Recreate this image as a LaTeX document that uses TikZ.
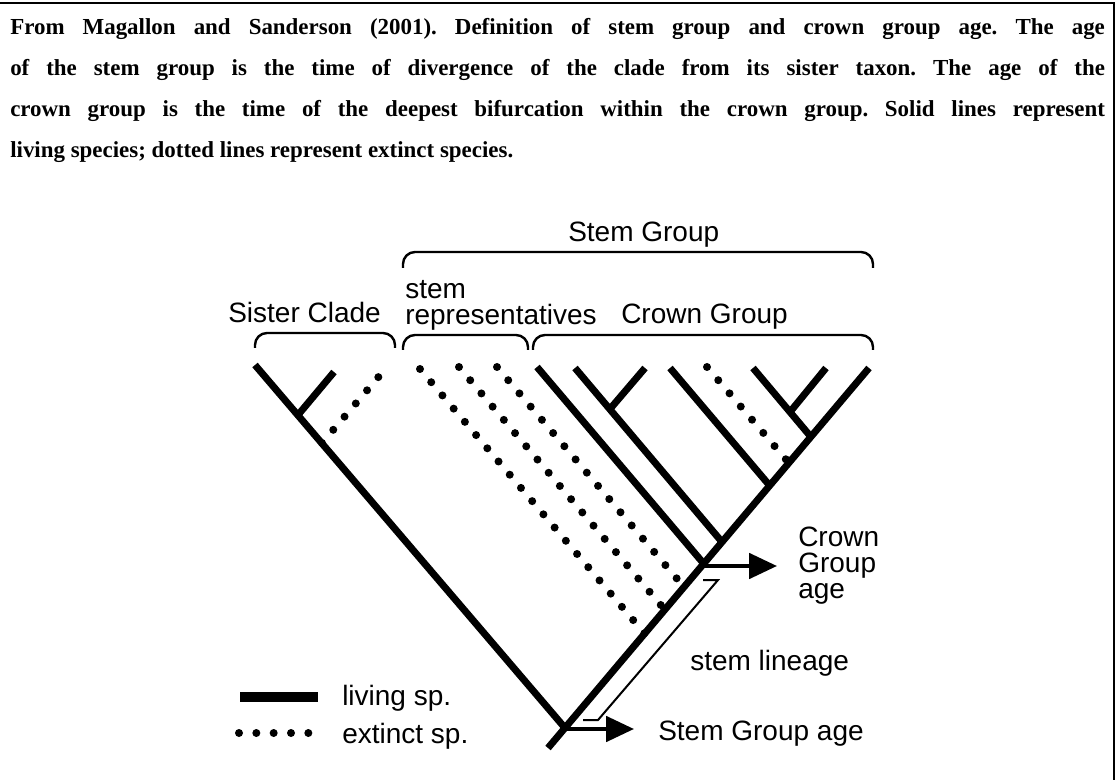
\documentclass[tikz,border=0pt]{standalone}
\usepackage{fontspec}
\setmainfont{Liberation Serif}
\newfontfamily\labelfont{Liberation Sans}
\usetikzlibrary{arrows.meta}

\begin{document}
\begin{tikzpicture}[x=0.75pt,y=-0.75pt,
  living/.style={line width=5.25pt},
  extinct/.style={line width=6pt,line cap=round,dash pattern=on 0pt off 13pt},
  bracket/.style={line width=1.8pt,rounded corners=9pt},
  agearrow/.style={line width=3pt,-{Triangle[length=21pt,width=19pt]}},
  every node/.style={font=\labelfont\fontsize{21}{24}\selectfont,inner sep=0pt,anchor=base west}]
  \useasboundingbox (0,0) rectangle (1117,780);
  \draw[line width=2pt] (0,3) -- (1114,3) -- (1114,780);
  \node[font=\rmfamily\bfseries\fontsize{17.2}{30.75}\selectfont] (caption) at (10,35) {\parbox[t]{821pt}{\frenchspacing From Magallon and Sanderson (2001). Definition of stem group and crown group age. The age\linebreak of the stem group is the time of divergence of the clade from its sister taxon. The age of the\linebreak crown group is the time of the deepest bifurcation within the crown group. Solid lines represent\linebreak living species; dotted lines represent extinct species.}};
  % brackets
  \draw[bracket] (403,268) -- (403,252) -- (873,252) -- (873,268);
  \draw[bracket] (255,348) -- (255,333) -- (395,333) -- (395,348);
  \draw[bracket] (403,350) -- (403,335) -- (528,335) -- (528,350);
  \draw[bracket] (533,350) -- (533,335) -- (873,335) -- (873,350);
  \node (stemgroup) at (568,242) {Stem Group};
  \node (sister) at (228,323) {Sister Clade};
  \node[align=left,font=\labelfont\fontsize{21}{20}\selectfont] (stemrep) at (405,325) {stem\\representatives};
  \node (crowngroup) at (621,324) {Crown Group};
  % tree
  \coordinate (root) at (565,728);
  \coordinate (base) at (548,748);
  \coordinate (top) at (869,368);
  \coordinate (sis) at (255,365);
  \coordinate (sisN) at (298,415);
  \coordinate (sisT) at (334,372);
  \coordinate (sisX) at (322,443);
  \coordinate (sisXT) at (381,374);
  \coordinate (rep1) at (420,369); \coordinate (rep1N) at (645,634);
  \coordinate (rep2) at (459,367); \coordinate (rep2N) at (665,610);
  \coordinate (rep3) at (497,367); \coordinate (rep3N) at (684,587);
  \coordinate (a) at (537,367); \coordinate (crown) at (704,564);
  \coordinate (b) at (575,368); \coordinate (bN) at (722,542);
  \coordinate (bS) at (610,409); \coordinate (bT) at (645,368);
  \coordinate (c) at (670,368); \coordinate (cN) at (770,486);
  \coordinate (d) at (707,367); \coordinate (dN) at (789,463);
  \coordinate (e) at (753,368); \coordinate (eN) at (811,437);
  \coordinate (eS) at (790,412); \coordinate (eT) at (826,368);
  \draw[living] (sis) -- (root);
  \draw[living] (base) -- (top);
  \draw[living] (sisN) -- (sisT);
  \draw[extinct] (sisX) -- (sisXT);
  \draw[extinct] (rep1) -- (rep1N);
  \draw[extinct] (rep2) -- (rep2N);
  \draw[extinct] (rep3) -- (rep3N);
  \draw[living] (a) -- (crown);
  \draw[living] (b) -- (bN);
  \draw[living] (bS) -- (bT);
  \draw[living] (c) -- (cN);
  \draw[extinct] (d) -- (dN);
  \draw[living] (e) -- (eN);
  \draw[living] (eS) -- (eT);
  % ages
  \coordinate (cgatip) at (777,566);
  \coordinate (sgatip) at (634,729);
  \draw[agearrow] (crown |- cgatip) -- (cgatip);
  \draw[agearrow] (root |- sgatip) -- (sgatip);
  \draw[line width=1.5pt] (703,580) -- (718,580) -- (598,720) -- (583,720);
  \node[align=left,font=\labelfont\fontsize{21}{19.5}\selectfont] (crownage) at (798,598) {Crown\\Group\\age};
  \node (lineage) at (690,670) {stem lineage};
  \node (stemage) at (658,740) {Stem Group age};
  % legend
  \coordinate (leg1) at (240,697); \coordinate (leg1e) at (318,697);
  \coordinate (leg2) at (239,733); \coordinate (leg2e) at (309,733);
  \draw[line width=7pt] (leg1) -- (leg1e);
  \draw[extinct] (leg2) -- (leg2e);
  \node (living) at (342,705) {living sp.};
  \node (extinctsp) at (342,743) {extinct sp.};
\end{tikzpicture}
\end{document}
